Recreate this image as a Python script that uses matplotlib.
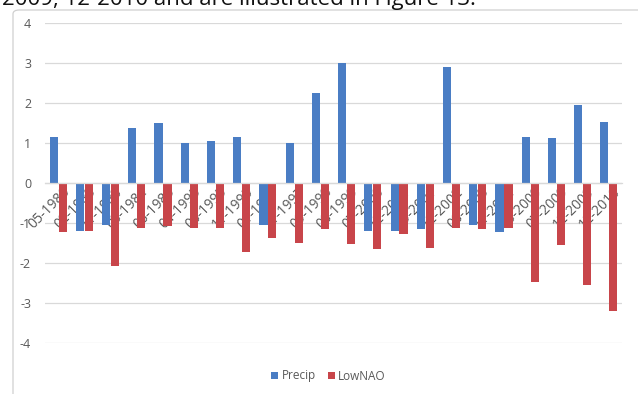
import matplotlib
matplotlib.use("Agg")
import matplotlib.pyplot as plt
from matplotlib.patches import FancyBboxPatch, Patch
import numpy as np

periods = ["05-1980", "02-1983", "11-1983", "03-1984", "06-1985", "04-1995",
           "06-1995", "11-1995", "01-1997", "11-1997", "09-1998", "08-1999",
           "07-2000", "12-2000", "09-2001", "12-2002", "08-2003", "11-2004",
           "03-2009", "07-2009", "12-2009", "12-2010"]

precip = [1.15, -1.2, -1.05, 1.38, 1.5, 1.0, 1.05, 1.15, -1.05, 1.0, 2.25, 3.0,
          -1.2, -1.2, -1.15, 2.9, -1.05, -1.22, 1.15, 1.12, 1.95, 1.52]

low_nao = [-1.22, -1.2, -2.08, -1.12, -1.08, -1.12, -1.12, -1.72, -1.38, -1.5,
           -1.15, -1.52, -1.65, -1.27, -1.62, -1.12, -1.15, -1.12, -2.48, -1.56,
           -2.54, -3.2]

yticks = [-4, -3, -2, -1, 0, 1, 2, 3, 4]

BLUE = "#4A7DC4"
RED = "#C8454A"
GREY_TXT = "#595959"
GRID = "#D9D9D9"

plt.rcParams["font.family"] = ["Open Sans", "DejaVu Sans"]

W, H = 638, 394
fig = plt.figure(figsize=(W / 100, H / 100), dpi=100)

# surrounding chart frame
frame = FancyBboxPatch((13 / W, -0.2), 1.2, (H - 10) / H + 0.2,
                       boxstyle="round,pad=0,rounding_size=0.01",
                       transform=fig.transFigure, fill=False,
                       edgecolor="#D0D0D0", linewidth=0.9)
fig.patches.append(frame)

# running text line above the chart
fig.text(2 / W, (H - 5) / H, "2009, 12-2010 and are illustrated in Figure 13.",
         fontsize=16, color="#111111", ha="left", va="baseline",
         family=["Open Sans", "DejaVu Sans"])

left, right = 45 / W, 622 / W
bottom, top = (H - 343) / H, (H - 23) / H
ax = fig.add_axes([left, bottom, right - left, top - bottom])
ax.set_axisbelow(True)

x = np.arange(len(periods))
bw = 0.31
ax.bar(x - 0.17, precip, width=bw, color=BLUE, zorder=2)
ax.bar(x + 0.17, low_nao, width=bw, color=RED, zorder=2)

ax.set_xlim(-0.5, len(periods) - 0.5)
ax.set_ylim(-4, 4)
ax.set_yticks(yticks)
ax.set_yticklabels([str(v) for v in yticks])
for v in yticks:
    ax.axhline(v, color=GRID, linewidth=0.9, zorder=0)

for s in ["top", "right", "left"]:
    ax.spines[s].set_visible(False)
ax.spines["bottom"].set_position(("data", 0))
ax.spines["bottom"].set_color(GRID)
ax.spines["bottom"].set_linewidth(0.9)

ax.tick_params(axis="y", length=0, pad=10, labelsize=9, labelcolor=GREY_TXT)
ax.tick_params(axis="x", length=0, pad=1, labelsize=10, labelcolor=GREY_TXT)
ax.set_xticks(x + 0.15)
ax.set_xticklabels(periods, rotation=45, ha="right", va="top",
                   rotation_mode="anchor")

handles = [Patch(facecolor=BLUE, label="Precip"),
           Patch(facecolor=RED, label="LowNAO")]
leg = fig.legend(handles=handles, loc="center", ncol=2,
                 bbox_to_anchor=(0.515, (H - 376) / H), frameon=False,
                 fontsize=8.5, handlelength=0.6, handleheight=0.6,
                 handletextpad=0.3, columnspacing=1.0)
for t in leg.get_texts():
    t.set_color(GREY_TXT)

fig.savefig("out.png", dpi=100)
